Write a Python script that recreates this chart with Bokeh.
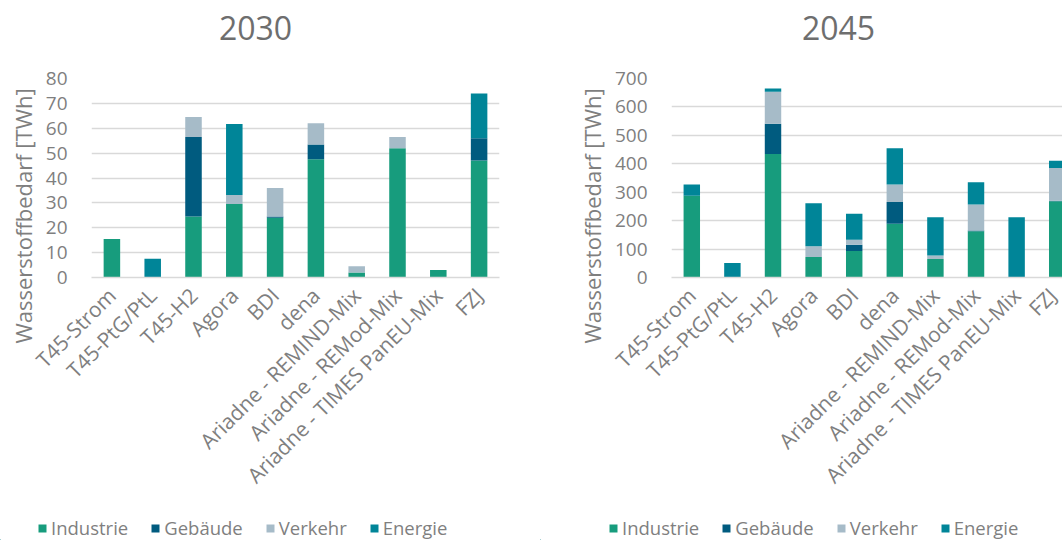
import math
from bokeh.plotting import figure
from bokeh.layouts import row, column
from bokeh.models import Range1d, FixedTicker, Label, Legend, Title
from bokeh.embed import file_html
from bokeh.resources import INLINE

categories = ["T45-Strom", "T45-PtG/PtL", "T45-H2", "Agora", "BDI", "dena",
              "Ariadne - REMIND-Mix", "Ariadne - REMod-Mix",
              "Ariadne - TIMES PanEU-Mix", "FZJ"]
series = ["Industrie", "Gebäude", "Verkehr", "Energie"]
colors = ["#179C7D", "#005B7F", "#A6BBC8", "#008598"]

# 2030 (TWh)
industrie_2030 = [15.5, 0, 24.5, 29.5, 24, 47.5, 2, 52, 3, 47]
gebaeude_2030 = [0, 0, 32, 0, 0.5, 6, 0, 0, 0, 9]
verkehr_2030 = [0, 0, 8, 3.7, 11.5, 8.5, 2.5, 4.5, 0, 0]
energie_2030 = [0, 7.5, 0, 28.5, 0, 0, 0, 0, 0, 18]

# 2045 (TWh)
industrie_2045 = [288, 0, 434, 72, 93, 189, 65, 163, 0, 268]
gebaeude_2045 = [0, 0, 107, 0, 22, 77, 0, 2, 0, 2]
verkehr_2045 = [0, 0, 112, 38, 18, 61, 12, 92, 0, 115]
energie_2045 = [39, 51, 12, 151, 91, 128, 135, 78, 212, 26]

y_ticks_2030 = list(range(0, 81, 10))
y_ticks_2045 = list(range(0, 701, 100))
y_title = "Wasserstoffbedarf [TWh]"

FONT = "Open Sans"
TXT = "#7f7f7f"
GRID = "#d9d9d9"

TOP_H, MID_H, BOT_H = 55, 450, 35


def blank(width, height):
    p = figure(width=width, height=height, output_backend="svg", toolbar_location=None,
               x_range=Range1d(0, width), y_range=Range1d(0, height),
               x_axis_type=None, y_axis_type=None,
               min_border=0, min_border_left=0, min_border_right=0,
               min_border_top=0, min_border_bottom=0)
    p.outline_line_color = None
    p.background_fill_color = "white"
    p.border_fill_color = "white"
    return p


def title_fig(text, width, cx):
    p = blank(width, TOP_H)
    p.add_layout(Label(x=cx, y=TOP_H - 27, text=text, text_font=FONT,
                       text_font_size="32px", text_color="#6e6e6e",
                       text_align="center", text_baseline="middle"))
    return p


def legend_fig(width, x0):
    p = blank(width, BOT_H)
    rs = []
    for c in colors:
        rs.append(p.vbar(x=[-1000], top=[1], width=0.4, color=c, line_width=0))
    legend = Legend(items=[(s, [r]) for s, r in zip(series, rs)],
                    orientation="horizontal", location=(x0, 0),
                    glyph_width=10, glyph_height=10, label_standoff=4, spacing=22,
                    padding=0, margin=0, border_line_color=None,
                    background_fill_alpha=0, label_text_font=FONT,
                    label_text_font_size="18.5px", label_text_color=TXT)
    p.add_layout(legend, "center")
    return p


def chart_fig(ind, geb, ver, ene, yticks, width, border_left, border_right, x_end):
    p = figure(width=width, height=MID_H, output_backend="svg", toolbar_location=None,
               x_range=Range1d(-0.5, x_end), y_range=Range1d(0, yticks[-1]),
               min_border_left=border_left, min_border_right=border_right,
               min_border_top=78 - TOP_H, min_border_bottom=MID_H - (78 - TOP_H) - 199)
    p.outline_line_color = None
    p.background_fill_color = "white"
    p.border_fill_color = "white"
    xs = list(range(len(categories)))
    data = {"x": xs, "Industrie": ind, "Gebäude": geb, "Verkehr": ver, "Energie": ene}
    p.vbar_stack(series, x="x", width=0.405, color=colors, source=data, line_width=0)

    p.xaxis.ticker = FixedTicker(ticks=xs)
    p.xaxis.major_label_overrides = {i: c for i, c in enumerate(categories)}
    p.xaxis.major_label_orientation = math.pi / 4
    p.xaxis.major_label_text_font = FONT
    p.xaxis.major_label_text_font_size = "21px"
    p.xaxis.major_label_text_color = TXT
    p.xaxis.major_label_standoff = 8
    p.xaxis.major_tick_line_color = None
    p.xaxis.minor_tick_line_color = None
    p.xaxis.axis_line_color = GRID
    p.xaxis.axis_line_width = 1.5

    p.yaxis.ticker = FixedTicker(ticks=yticks)
    p.yaxis.major_label_text_font = FONT
    p.yaxis.major_label_text_font_size = "19px"
    p.yaxis.major_label_text_color = TXT
    p.yaxis.major_label_standoff = 18
    p.yaxis.major_tick_line_color = None
    p.yaxis.minor_tick_line_color = None
    p.yaxis.axis_line_color = None

    p.xgrid.grid_line_color = None
    p.ygrid.grid_line_color = GRID
    p.ygrid.grid_line_width = 1.5

    p.add_layout(Title(text=y_title, align="left", offset=-66, standoff=10,
                       text_font=FONT, text_font_size="22px", text_color=TXT,
                       text_font_style="normal"), "left")
    return p


# left block: x 0..540 ; right block: x 540..1062
t1 = title_fig("2030", 540, 255)
t2 = title_fig("2045", 522, 838 - 540)

c1 = chart_fig(industrie_2030, gebaeude_2030, verkehr_2030, energie_2030,
               y_ticks_2030, 540, 88, 41, 9.5)
c2 = chart_fig(industrie_2045, gebaeude_2045, verkehr_2045, energie_2045,
               y_ticks_2045, 522, 131, 0, 9.13)

l1 = legend_fig(540, 37)
l2 = legend_fig(522, 608 - 540)

layout = column(row(t1, t2), row(c1, c2), row(l1, l2))
open("out.html", "w").write(file_html(layout, INLINE))
